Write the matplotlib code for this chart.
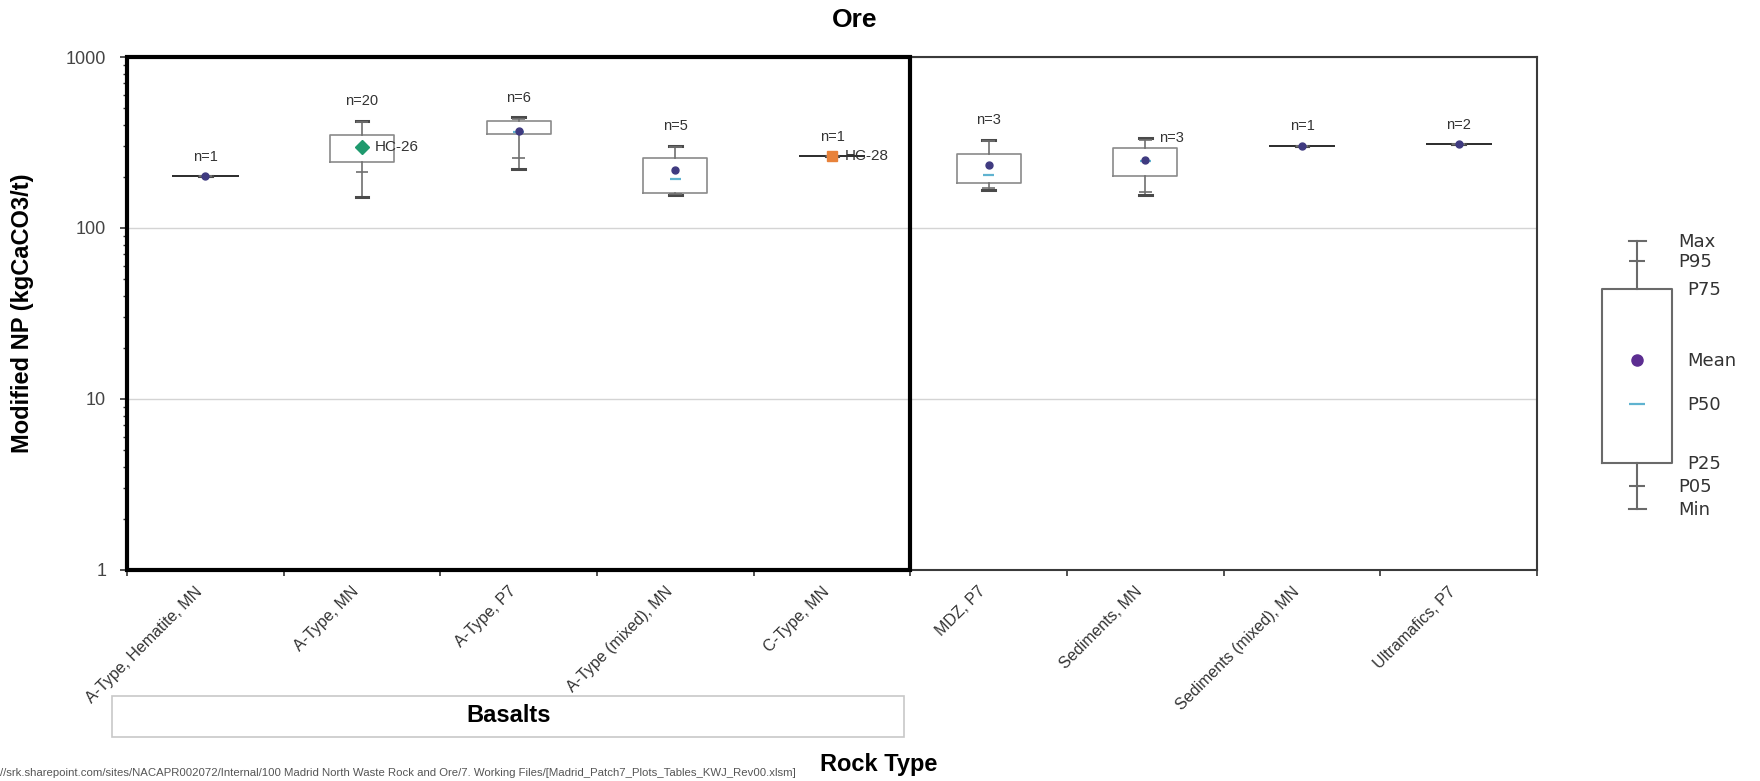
import numpy as np
import matplotlib
matplotlib.use("Agg")
import matplotlib.pyplot as plt
from matplotlib.patches import Rectangle
from matplotlib.ticker import FixedLocator, NullFormatter, LogLocator

plt.rcParams['font.family'] = ['Liberation Sans', 'DejaVu Sans']

# rock types and percentile summary of modified NP (kgCaCO3/t)
rock_types = ["A-Type, Hematite, MN", "A-Type, MN", "A-Type, P7", "A-Type (mixed), MN",
              "C-Type, MN", "MDZ, P7", "Sediments, MN", "Sediments (mixed), MN",
              "Ultramafics, P7"]
n_samples = [1, 20, 6, 5, 1, 3, 3, 1, 2]
np_min = [201, 151, 220, 157, 262, 167, 157, 302, 309]
np_p05 = [201, 212, 255, 159, 262, 172, 162, 302, 309]
np_p25 = [201, 242, 353, 161, 262, 183, 201, 302, 309]
np_p50 = [201, 295, 362, 193, 262, 204, 248, 302, 309]
np_p75 = [201, 349, 423, 255, 262, 270, 292, 302, 309]
np_p95 = [201, 415, 436, 297, 262, 322, 328, 302, 309]
np_max = [201, 423, 443, 302, 262, 329, 334, 302, 309]
np_mean = [201, 297, 370, 218, 262, 234, 250, 302, 309]

# individually flagged samples
flag_names = ["HC-26", "HC-28"]
flag_rock = [1, 4]
flag_np = [297, 262]
flag_marker = ["D", "s"]
flag_color = ["#1f9a6e", "#e8823a"]

basalt_count = 5
group_name = "Basalts"

# schematic values for the key
key_names = ["Max", "P95", "P75", "Mean", "P50", "P25", "P05", "Min"]
key_vals = [279, 259, 231, 160, 116, 57, 34, 11]

mean_col = "#3f3a80"
p50_col = "#5fb3d0"
box_col = "#8a8a8a"
whisk_col = "#707070"
cap_col = "#4a4a4a"

fig = plt.figure(figsize=(17.6, 7.81), dpi=100)
ax = fig.add_axes([0.0722, 0.2702, 0.8011, 0.6568])

pos = np.arange(len(rock_types)) + 0.5
stats = []
for i in range(len(rock_types)):
    stats.append(dict(med=np_p50[i], q1=np_p25[i], q3=np_p75[i], whislo=np_min[i],
                      whishi=np_max[i], mean=np_mean[i]))

bw = 0.41
cw = 0.08
art = ax.bxp(stats, positions=pos, widths=bw, capwidths=cw, showmeans=True, showfliers=False,
             boxprops=dict(color=box_col, lw=1.2),
             whiskerprops=dict(color=whisk_col, lw=1.2),
             capprops=dict(color=cap_col, lw=2.2),
             medianprops=dict(linestyle='none'),
             meanprops=dict(marker='o', mfc=mean_col, mec=mean_col, ms=5),
             manage_ticks=False, zorder=3)
for i, b in enumerate(art['boxes']):
    if np_p25[i] == np_p75[i]:
        b.set_color('#303030')
        b.set_linewidth(1.4)

# P05 / P95 marks and short P50 dash
ax.hlines(np_p05, pos - cw / 2, pos + cw / 2, color=whisk_col, lw=1.2, zorder=3)
ax.hlines(np_p95, pos - cw / 2, pos + cw / 2, color=whisk_col, lw=1.2, zorder=3)
spread = np.array(np_p75) > np.array(np_p25)
ax.hlines(np.array(np_p50)[spread], pos[spread] - 0.035, pos[spread] + 0.035,
          color=p50_col, lw=1.6, zorder=3)

for i in range(len(flag_names)):
    ax.plot(pos[flag_rock[i]], flag_np[i], marker=flag_marker[i], color=flag_color[i],
            ms=7, ls='none', zorder=5)
    ax.annotate(flag_names[i], (pos[flag_rock[i]], flag_np[i]), xytext=(9, 0),
                textcoords='offset points', ha='left', va='center', fontsize=11,
                color='#333333', zorder=6)

for i in range(len(rock_types)):
    if i == 6:
        ax.annotate("n=%d" % n_samples[i], (pos[i], np_max[i]), xytext=(10, 0),
                    textcoords='offset points', ha='left', va='center', fontsize=10.5,
                    color='#333333')
    else:
        ax.annotate("n=%d" % n_samples[i], (pos[i], np_max[i]), xytext=(0, 14),
                    textcoords='offset points', ha='center', va='center', fontsize=10.5,
                    color='#333333')

ax.set_yscale('log')
ax.set_ylim(1, 1000)
ax.set_xlim(0, len(rock_types))
ax.set_yticks([1, 10, 100, 1000])
ax.set_yticklabels(["1", "10", "100", "1000"], fontsize=13, color='#444444')
ax.yaxis.set_minor_locator(LogLocator(base=10, subs=np.arange(2, 10)))
ax.yaxis.set_minor_formatter(NullFormatter())
ax.tick_params(axis='y', which='major', length=5, width=1.2, color='#333333', pad=10)
ax.tick_params(axis='y', which='minor', length=3, width=1, color='#333333')
ax.grid(axis='y', which='major', color='#d4d4d4', lw=1, zorder=0)

ax.set_xticks(pos)
ax.set_xticklabels(rock_types, rotation=45, ha='right', fontsize=11.5, color='#333333')
ax.tick_params(axis='x', which='major', length=0, pad=10)
ax.xaxis.set_minor_locator(FixedLocator(np.arange(len(rock_types) + 1)))
ax.tick_params(axis='x', which='minor', length=4, width=1.2, color='#333333')

for s in ax.spines.values():
    s.set_color('#3a3a3a')
    s.set_linewidth(1.5)
ax.add_patch(Rectangle((0, 1), basalt_count, 999, fill=False, ec='black', lw=3,
                       clip_on=False, zorder=7))

ax.set_ylabel("Modified NP (kgCaCO3/t)", fontsize=17, weight='bold')
ax.yaxis.set_label_coords(-0.066, 0.5)

fig.text(855 / 1760, 1 - 20 / 781, "Ore", ha='center', va='center', fontsize=19, weight='bold')
fig.text(0.499, 1 - 764 / 781, "Rock Type", ha='center', va='center', fontsize=17, weight='bold')

# group bracket under the basalt categories
fig.patches.append(Rectangle((112 / 1760, 1 - 737 / 781), 792 / 1760, 41 / 781, fill=False,
                             ec='#c8c8c8', lw=1.2, transform=fig.transFigure, figure=fig))
fig.text(509 / 1760, 1 - 716 / 781, group_name, ha='center', va='center', fontsize=17,
         weight='bold')

fig.text(0.0, 1 - 773 / 781,
         "//srk.sharepoint.com/sites/NACAPR002072/Internal/100 Madrid North Waste Rock and Ore/"
         "7. Working Files/[Madrid_Patch7_Plots_Tables_KWJ_Rev00.xlsm]",
         ha='left', va='center', fontsize=8.2, color='#555555')

# key box
lax = fig.add_axes([1590 / 1760, 1 - 520 / 781, 170 / 1760, 290 / 781])
lax.set_xlim(0, 170)
lax.set_ylim(0, 290)
lax.axis('off')
kd = dict(zip(key_names, key_vals))
lax.bxp([dict(med=kd["P50"], q1=kd["P25"], q3=kd["P75"], whislo=kd["Min"], whishi=kd["Max"],
              mean=kd["Mean"])], positions=[47], widths=70, capwidths=17, showmeans=False,
        showfliers=False, boxprops=dict(color='#6a6a6a', lw=1.5),
        whiskerprops=dict(color='#6a6a6a', lw=1.5), capprops=dict(color='#6a6a6a', lw=1.5),
        medianprops=dict(linestyle='none'), manage_ticks=False)
lax.hlines([kd["P95"], kd["P05"]], 39, 55, color='#6a6a6a', lw=1.5)
lax.hlines(kd["P50"], 39, 55, color=p50_col, lw=1.6)
lax.plot(47, kd["Mean"], 'o', color='#5c2d91', ms=8)
for name, v in zip(key_names, key_vals):
    x = 88 if name in ("Max", "P95", "P05", "Min") else 97
    lax.text(x, v - 1, name, ha='left', va='center', fontsize=13, family='DejaVu Sans',
             color='#333333')

fig.savefig("out.png", dpi=100)
